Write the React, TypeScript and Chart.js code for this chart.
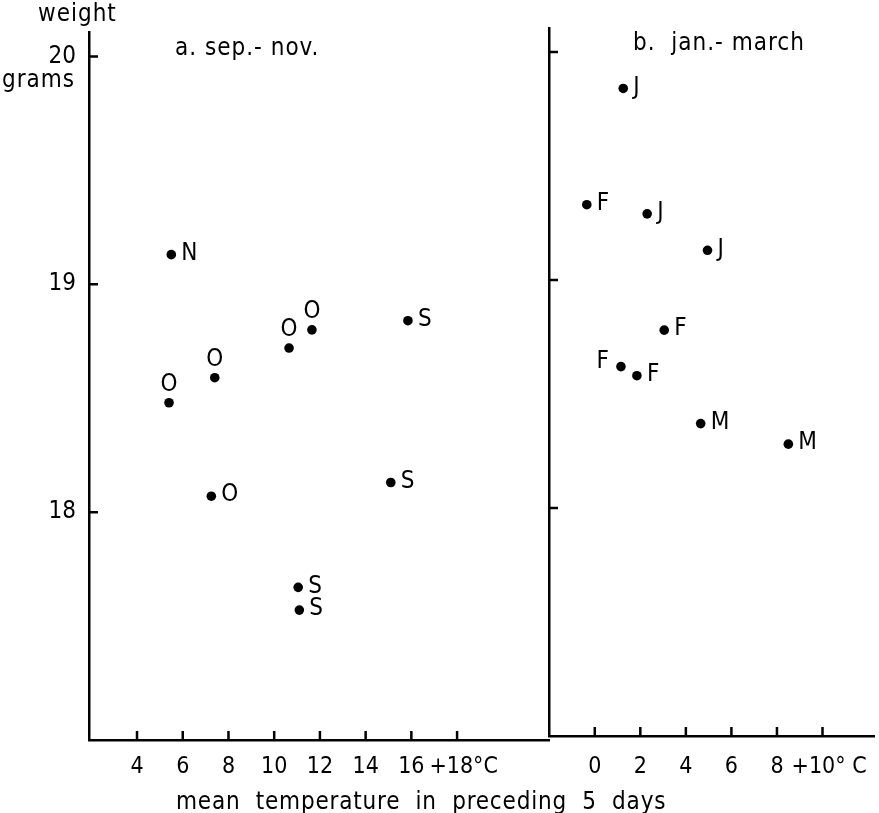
import React, { useEffect, useRef } from 'react';
import { Chart, registerables } from 'chart.js';

Chart.register(...registerables);

const FONT = '"Liberation Sans Narrow", "DejaVu Sans Condensed", "Liberation Sans", "DejaVu Sans", sans-serif';

// Panel a: sep.-nov.
const tempA = [5.5, 5.4, 7.4, 10.65, 11.65, 15.85, 7.25, 15.1, 11.05, 11.1];
const weightA = [19.13, 18.48, 18.59, 18.72, 18.8, 18.84, 18.07, 18.13, 17.67, 17.57];
const monthA = ['N', 'O', 'O', 'O', 'O', 'S', 'O', 'S', 'S', 'S'];
const sideA = ['right', 'above', 'above', 'above', 'above', 'right', 'right', 'right', 'right', 'right'];

// Panel b: jan.-march
const tempB = [1.25, -0.35, 2.3, 4.95, 3.05, 1.15, 1.85, 4.65, 8.5];
const weightB = [19.84, 19.33, 19.29, 19.13, 18.78, 18.62, 18.58, 18.37, 18.28];
const monthB = ['J', 'F', 'J', 'J', 'F', 'F', 'F', 'M', 'M'];
const sideB = ['right', 'right', 'right', 'right', 'right', 'left', 'right', 'right', 'right'];

const ticksA = [4, 6, 8, 10, 12, 14, 16, 18];
const ticksB = [0, 2, 4, 6, 8, 10];
const weightTicks = [18, 19, 20];

const tickLabelA = (v: number) => (v === 18 ? '  +18°C' : String(v));
const tickLabelB = (v: number) => (v === 10 ? '  +10° C' : String(v));

function inwardTicks() {
  return {
    id: 'inwardTicks',
    afterDraw(chart: any) {
      const { ctx, chartArea } = chart;
      const xs = chart.scales.x;
      const ys = chart.scales.y;
      ctx.save();
      ctx.strokeStyle = '#000';
      ctx.lineWidth = 2.5;
      ctx.beginPath();
      xs.ticks.forEach((t: any) => {
        const px = xs.getPixelForValue(t.value);
        ctx.moveTo(px, chartArea.bottom);
        ctx.lineTo(px, chartArea.bottom - 9);
      });
      ys.ticks.forEach((t: any) => {
        const py = ys.getPixelForValue(t.value);
        ctx.moveTo(chartArea.left, py);
        ctx.lineTo(chartArea.left + 9, py);
      });
      ctx.stroke();
      ctx.restore();
    },
  };
}

function pointLabels(labels: string[], sides: string[]) {
  return {
    id: 'pointLabels',
    afterDatasetsDraw(chart: any) {
      const { ctx } = chart;
      const meta = chart.getDatasetMeta(0);
      ctx.save();
      ctx.fillStyle = '#000';
      ctx.font = `24px ${FONT}`;
      ctx.textBaseline = 'middle';
      meta.data.forEach((el: any, i: number) => {
        const side = sides[i];
        if (side === 'above') {
          ctx.textAlign = 'center';
          ctx.fillText(labels[i], el.x, el.y - 18);
        } else if (side === 'left') {
          ctx.textAlign = 'right';
          ctx.fillText(labels[i], el.x - 12, el.y - 5);
        } else {
          ctx.textAlign = 'left';
          ctx.fillText(labels[i], el.x + 10, el.y - 1);
        }
      });
      ctx.restore();
    },
  };
}

function staticTexts() {
  return {
    id: 'staticTexts',
    afterDraw(chart: any) {
      const { ctx } = chart;
      ctx.save();
      ctx.fillStyle = '#000';
      ctx.font = `24px ${FONT}`;
      ctx.textAlign = 'left';
      ctx.textBaseline = 'alphabetic';
      (ctx as any).letterSpacing = '1px';
      ctx.fillText('weight', 38, 21);
      ctx.fillText('grams', 2, 87);
      ctx.fillText('a. sep.- nov.', 175, 55);
      ctx.fillText('b.  jan.- march', 633, 50);
      (ctx as any).letterSpacing = '0.8px';
      ctx.fillText('mean  temperature  in  preceding  5  days', 176, 809);
      ctx.restore();
    },
  };
}

function axisCommon(tickVals: number[]) {
  return {
    type: 'linear' as const,
    afterBuildTicks: (s: any) => {
      s.ticks = tickVals.map((v) => ({ value: v }));
    },
    grid: { display: false, drawTicks: false },
    border: { display: true, color: '#000', width: 2.5 },
  };
}

export default function App() {
  const leftRef = useRef<HTMLCanvasElement>(null);
  const rightRef = useRef<HTMLCanvasElement>(null);

  useEffect(() => {
    const tickFont = { family: FONT, size: 23 };
    const yTickFont = { family: FONT, size: 24 };
    const left = new Chart(leftRef.current as HTMLCanvasElement, {
      type: 'scatter',
      data: {
        datasets: [
          {
            data: tempA.map((t, i) => ({ x: t, y: weightA[i] })),
            pointRadius: 4.8,
            pointHoverRadius: 4.8,
            backgroundColor: '#000',
            borderWidth: 0,
          },
        ],
      },
      options: {
        responsive: false,
        animation: false,
        events: [],
        layout: { padding: { top: 32, left: 0, right: 330, bottom: 0 } },
        plugins: { legend: { display: false }, tooltip: { enabled: false } },
        scales: {
          x: {
            ...axisCommon(ticksA),
            min: 1.9,
            max: 22.02,
            afterFit: (s: any) => {
              s.height = 73;
              s.paddingLeft = 0;
              s.paddingRight = 0;
            },
            ticks: {
              padding: 13,
              color: '#000',
              font: tickFont,
              maxRotation: 0,
              autoSkip: false,
              callback: (v: any) => tickLabelA(v),
            },
          },
          y: {
            ...axisCommon(weightTicks),
            min: 17,
            max: 20.107,
            afterFit: (s: any) => {
              s.width = 89;
              s.paddingTop = 0;
              s.paddingBottom = 0;
            },
            ticks: { padding: 13, color: '#000', font: yTickFont, autoSkip: false },
          },
        },
      } as any,
      plugins: [inwardTicks(), pointLabels(monthA, sideA), staticTexts()],
    });

    const right = new Chart(rightRef.current as HTMLCanvasElement, {
      type: 'scatter',
      data: {
        datasets: [
          {
            data: tempB.map((t, i) => ({ x: t, y: weightB[i] })),
            pointRadius: 4.8,
            pointHoverRadius: 4.8,
            backgroundColor: '#000',
            borderWidth: 0,
          },
        ],
      },
      options: {
        responsive: false,
        animation: false,
        events: [],
        layout: { padding: { top: 28, left: 0, right: 3, bottom: 0 } },
        plugins: { legend: { display: false }, tooltip: { enabled: false } },
        scales: {
          x: {
            ...axisCommon(ticksB),
            min: -2.01,
            max: 12.27,
            afterFit: (s: any) => {
              s.height = 77;
              s.paddingLeft = 0;
              s.paddingRight = 0;
            },
            ticks: {
              padding: 17,
              color: '#000',
              font: tickFont,
              maxRotation: 0,
              autoSkip: false,
              callback: (v: any) => tickLabelB(v),
            },
          },
          y: {
            ...axisCommon(weightTicks),
            min: 17,
            max: 20.105,
            afterFit: (s: any) => {
              s.width = 10;
              s.paddingTop = 0;
              s.paddingBottom = 0;
            },
            ticks: { display: false },
          },
        },
      } as any,
      plugins: [inwardTicks(), pointLabels(monthB, sideB)],
    });

    return () => {
      left.destroy();
      right.destroy();
    };
  }, []);

  return (
    <div
      style={{
        position: 'absolute',
        left: 0,
        top: 0,
        width: 879,
        height: 813,
        background: '#fff',
        overflow: 'hidden',
      }}
    >
      <canvas ref={leftRef} width={879} height={813} style={{ position: 'absolute', left: 0, top: 0, display: 'block' }} />
      <canvas ref={rightRef} width={340} height={813} style={{ position: 'absolute', left: 539, top: 0, display: 'block' }} />
    </div>
  );
}
